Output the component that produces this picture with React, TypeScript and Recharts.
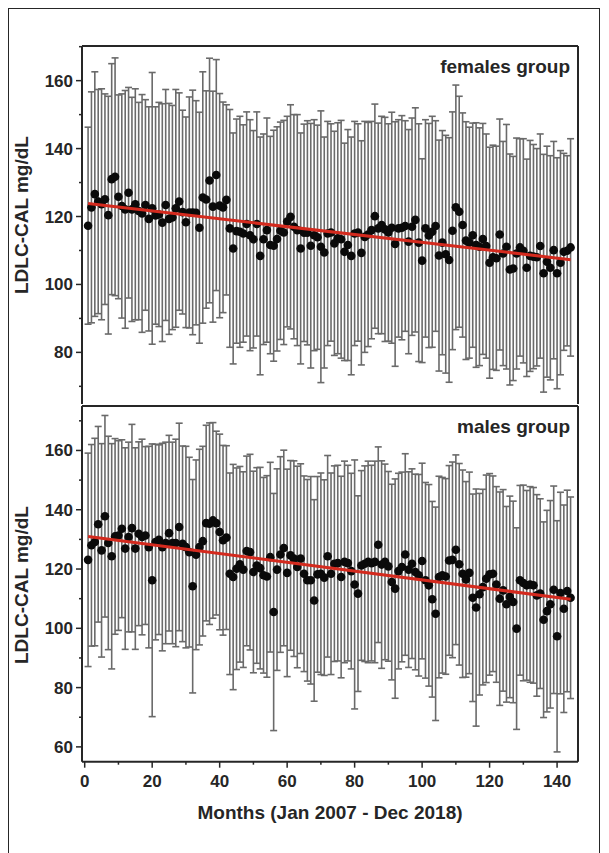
import React from "react";
import { ComposedChart, Scatter, XAxis, YAxis, ErrorBar, ReferenceLine } from "recharts";

// months 1..144 (Jan 2007 - Dec 2018)
const months = Array.from({ length: 144 }, (_, i) => i + 1);

const femalesMean = [
  117.3, 122.7, 126.6, 124.4, 123.6, 125.1, 120.4, 131.0, 131.7, 125.8, 123.1, 122.1,
  127.0, 122.1, 123.6, 121.6, 120.9, 123.4, 119.3, 122.4, 120.3, 120.6, 118.2, 123.4,
  119.3, 119.7, 122.4, 124.4, 121.3, 118.3, 121.2, 121.2, 121.1, 116.7, 125.6, 125.0,
  130.6, 122.9, 132.2, 123.2, 122.7, 124.9, 116.5, 110.6, 115.7, 115.5, 115.0, 117.8,
  114.5, 113.3, 117.8, 108.4, 113.3, 116.0, 111.6, 111.4, 113.4, 115.8, 115.3, 118.5,
  119.9, 117.0, 116.0, 110.6, 115.2, 115.2, 111.4, 114.5, 113.9, 111.1, 109.4, 115.0,
  115.3, 112.1, 113.6, 113.3, 109.6, 111.6, 108.4, 115.0, 115.3, 109.3, 114.0, 114.7,
  116.0, 120.1, 116.5, 117.5, 116.2, 115.3, 116.7, 111.9, 116.5, 116.7, 117.2, 112.6,
  117.0, 119.0, 112.3, 107.0, 116.5, 114.4, 115.5, 117.2, 108.5, 112.3, 108.9, 107.2,
  115.8, 122.7, 121.4, 117.5, 112.9, 112.3, 114.5, 111.6, 111.1, 113.4, 111.3, 106.4,
  108.0, 107.7, 114.7, 109.1, 111.1, 104.4, 104.7, 109.1, 110.9, 109.9, 104.9, 108.4,
  108.2, 108.0, 111.3, 103.3, 106.7, 104.9, 110.1, 103.3, 106.4, 109.6, 109.9, 110.9,
];

const femalesSd = [
  29, 34, 36, 33, 34, 31, 35, 34, 35, 30, 33, 35,
  31, 33, 34, 32, 35, 31, 33, 40, 32, 33, 35, 34,
  34, 33, 35, 32, 30, 31, 34, 36, 33, 34, 37, 32,
  36, 34, 34, 33, 31, 28, 35, 34, 33, 34, 32, 33,
  34, 32, 33, 35, 31, 33, 32, 34, 33, 32, 33, 31,
  33, 33, 34, 34, 32, 33, 36, 34, 33, 40, 34, 33,
  32, 33, 34, 35, 32, 34, 35, 33, 32, 33, 34, 33,
  32, 33, 31, 32, 33, 32, 34, 36, 32, 33, 31, 33,
  32, 33, 35, 30, 32, 33, 34, 31, 34, 33, 35, 36,
  35, 36, 34, 33, 35, 34, 33, 36, 35, 34, 33, 34,
  33, 33, 34, 33, 36, 34, 33, 34, 32, 33, 32, 34,
  33, 32, 33, 35, 34, 33, 32, 34, 33, 29, 28, 32,
];

const malesMean = [
  123.1, 128.0, 129.1, 135.1, 126.3, 137.8, 128.8, 124.3, 131.0, 131.3, 133.6, 126.9,
  130.8, 133.8, 126.9, 131.9, 130.8, 131.3, 127.4, 116.2, 129.1, 129.9, 127.4, 128.8,
  132.1, 128.8, 128.8, 134.2, 128.5, 127.4, 125.7, 114.2, 124.8, 127.4, 129.4, 135.5,
  135.3, 136.4, 135.5, 132.5, 129.7, 130.6, 118.4, 117.3, 120.1, 121.6, 119.8, 126.1,
  125.7, 119.0, 121.2, 120.3, 117.9, 117.5, 124.0, 105.5, 119.8, 124.9, 127.1, 118.7,
  124.6, 123.5, 120.7, 123.5, 118.4, 116.2, 116.2, 109.4, 118.2, 118.4, 117.1, 124.3,
  118.4, 121.8, 122.0, 117.3, 122.4, 122.0, 119.3, 114.8, 111.7, 121.2, 121.8, 122.4,
  122.0, 122.4, 128.2, 121.5, 122.4, 120.9, 115.6, 113.4, 119.3, 120.7, 124.9, 119.8,
  121.8, 119.0, 117.9, 122.7, 116.2, 114.5, 109.8, 104.9, 117.3, 117.9, 117.5, 122.9,
  123.1, 126.5, 121.6, 118.4, 116.5, 118.7, 110.3, 107.0, 111.5, 113.9, 116.7, 118.2,
  118.4, 114.8, 110.0, 112.8, 108.1, 110.6, 108.9, 99.9, 116.2, 115.3, 114.5, 114.8,
  114.5, 111.1, 111.7, 102.9, 105.8, 108.1, 113.0, 97.3, 111.9, 106.6, 112.6, 110.3,
];

const malesSd = [
  36, 34, 35, 33, 36, 34, 36, 38, 33, 32, 30, 34,
  32, 35, 34, 31, 33, 30, 34, 46, 33, 32, 35, 34,
  33, 34, 35, 35, 33, 34, 32, 36, 32, 33, 32, 33,
  34, 33, 31, 33, 32, 31, 34, 38, 34, 33, 33, 32,
  33, 34, 33, 34, 33, 34, 32, 40, 34, 33, 33, 35,
  32, 33, 34, 32, 33, 34, 35, 34, 33, 34, 33, 34,
  34, 33, 33, 34, 34, 33, 33, 42, 33, 32, 33, 34,
  33, 34, 33, 35, 33, 32, 33, 37, 33, 32, 34, 33,
  32, 33, 34, 33, 33, 34, 33, 36, 34, 33, 33, 32,
  33, 32, 34, 35, 33, 34, 35, 40, 34, 33, 35, 34,
  33, 33, 36, 34, 33, 34, 34, 34, 32, 33, 32, 33,
  33, 34, 32, 33, 34, 35, 35, 39, 34, 35, 34, 34,
];

// regression line end points (month, value)
const trendMonths = [1, 144];
const femalesTrend = [123.8, 107.3];
const malesTrend = [131.0, 109.8];

const xTicks = [0, 10, 20, 30, 40, 50, 60, 70, 80, 90, 100, 110, 120, 130, 140];
const femalesYTicks = [70, 80, 90, 100, 110, 120, 130, 140, 150, 160, 170];
const malesYTicks = [60, 70, 80, 90, 100, 110, 120, 130, 140, 150, 160, 170];

const FONT = "Arial, 'Liberation Sans', sans-serif";
const INK = "#262626";
const AXIS_X = 82;

const YTick = (props: any) => {
  const v = props.payload.value;
  const y = props.y;
  const major = v % 20 === 0;
  return (
    <g>
      <line x1={AXIS_X} x2={AXIS_X - (major ? 6 : 3)} y1={y} y2={y} stroke={INK} strokeWidth={1.5} />
      {major && (
        <text x={AXIS_X - 9} y={y} dy={6} textAnchor="end" fontFamily={FONT} fontWeight="bold" fontSize={17} fill={INK}>
          {v}
        </text>
      )}
    </g>
  );
};

const makeXTick = (axisY: number, labels: boolean) => (props: any) => {
  const v = props.payload.value;
  const x = props.x;
  const major = v % 20 === 0;
  return (
    <g>
      <line x1={x} x2={x} y1={axisY} y2={axisY + (major ? 6 : 3)} stroke={INK} strokeWidth={1.5} />
      {labels && major && (
        <text x={x} y={axisY + 25} textAnchor="middle" fontFamily={FONT} fontWeight="bold" fontSize={17} fill={INK}>
          {v}
        </text>
      )}
    </g>
  );
};

function Panel({
  mean,
  sd,
  trend,
  domain,
  yTicks,
  title,
  height,
  margin,
  plotBottom,
  xLabels,
  xAxisHeight,
}: any) {
  const points = months.map((m, i) => ({ x: m, y: mean[i], e: sd[i] }));
  const line = trendMonths.map((m, i) => ({ x: m, y: trend[i] }));
  return (
    <div style={{ position: "relative", width: 609, height }}>
      <ComposedChart width={609} height={height} margin={margin}>
        <XAxis
          type="number"
          dataKey="x"
          domain={[-0.8, 146.2]}
          ticks={xTicks}
          interval={0}
          height={xAxisHeight}
          axisLine={{ stroke: INK, strokeWidth: 2 }}
          tickLine={false}
          tick={makeXTick(plotBottom, xLabels)}
          allowDataOverflow
        />
        <YAxis
          type="number"
          dataKey="y"
          domain={domain}
          ticks={yTicks}
          interval={0}
          width={AXIS_X}
          axisLine={{ stroke: INK, strokeWidth: 2 }}
          tickLine={false}
          tick={YTick}
          allowDataOverflow
        />
        <ReferenceLine x={146.2} stroke={INK} strokeWidth={2} ifOverflow="visible" />
        <ReferenceLine y={domain[1]} stroke={INK} strokeWidth={2} ifOverflow="visible" />
        <Scatter data={points} shape={() => <g />} isAnimationActive={false}>
          <ErrorBar dataKey="e" direction="y" width={3.5} stroke="#6a6a6a" strokeWidth={1.6} isAnimationActive={false} />
        </Scatter>
        <Scatter
          data={points}
          isAnimationActive={false}
          shape={(p: any) => <circle cx={p.cx} cy={p.cy} r={4.3} fill="#0a0a0a" />}
        />
        <Scatter
          data={line}
          isAnimationActive={false}
          line={{ stroke: "#d42a1e", strokeWidth: 3 }}
          shape={() => <g />}
        />
      </ComposedChart>
      <div
        style={{
          position: "absolute",
          right: 609 - 570,
          top: margin.top + 10,
          fontFamily: FONT,
          fontWeight: "bold",
          fontSize: 19,
          color: INK,
        }}
      >
        {title}
      </div>
    </div>
  );
}

export default function App() {
  return (
    <div style={{ position: "absolute", left: 0, top: 0, width: 609, height: 853, background: "#fff", overflow: "hidden" }}>
      <div
        style={{
          position: "absolute",
          left: 8,
          top: 8,
          width: 590,
          height: 860,
          borderLeft: `1.5px solid ${INK}`,
          borderTop: `1.5px solid ${INK}`,
          borderRight: `1.5px solid ${INK}`,
        }}
      />
      <div style={{ position: "absolute", left: 0, top: 0 }}>
        <Panel
          mean={femalesMean}
          sd={femalesSd}
          trend={femalesTrend}
          domain={[64.8, 170.2]}
          yTicks={femalesYTicks}
          title="females group"
          height={406}
          margin={{ top: 46, right: 31, left: 0, bottom: 2 }}
          plotBottom={404}
          xLabels={false}
          xAxisHeight={0}
        />
      </div>
      <div style={{ position: "absolute", left: 0, top: 404 }}>
        <Panel
          mean={malesMean}
          sd={malesSd}
          trend={malesTrend}
          domain={[55, 175]}
          yTicks={malesYTicks}
          title="males group"
          height={449}
          margin={{ top: 2, right: 31, left: 0, bottom: 61.3 }}
          plotBottom={357.7}
          xLabels={true}
          xAxisHeight={30}
        />
      </div>
      <div
        style={{
          position: "absolute",
          left: 330,
          top: 813,
          transform: "translate(-50%, -50%)",
          whiteSpace: "nowrap",
          fontFamily: FONT,
          fontWeight: "bold",
          fontSize: 19,
          color: INK,
        }}
      >
        Months (Jan 2007 - Dec 2018)
      </div>
      {[215, 585].map((cy, i) => (
        <div
          key={i}
          style={{
            position: "absolute",
            left: 22,
            top: cy,
            transform: "translate(-50%, -50%) rotate(-90deg)",
            whiteSpace: "nowrap",
            fontFamily: FONT,
            fontWeight: "bold",
            fontSize: 19,
            color: INK,
          }}
        >
          LDLC-CAL mg/dL
        </div>
      ))}
    </div>
  );
}
